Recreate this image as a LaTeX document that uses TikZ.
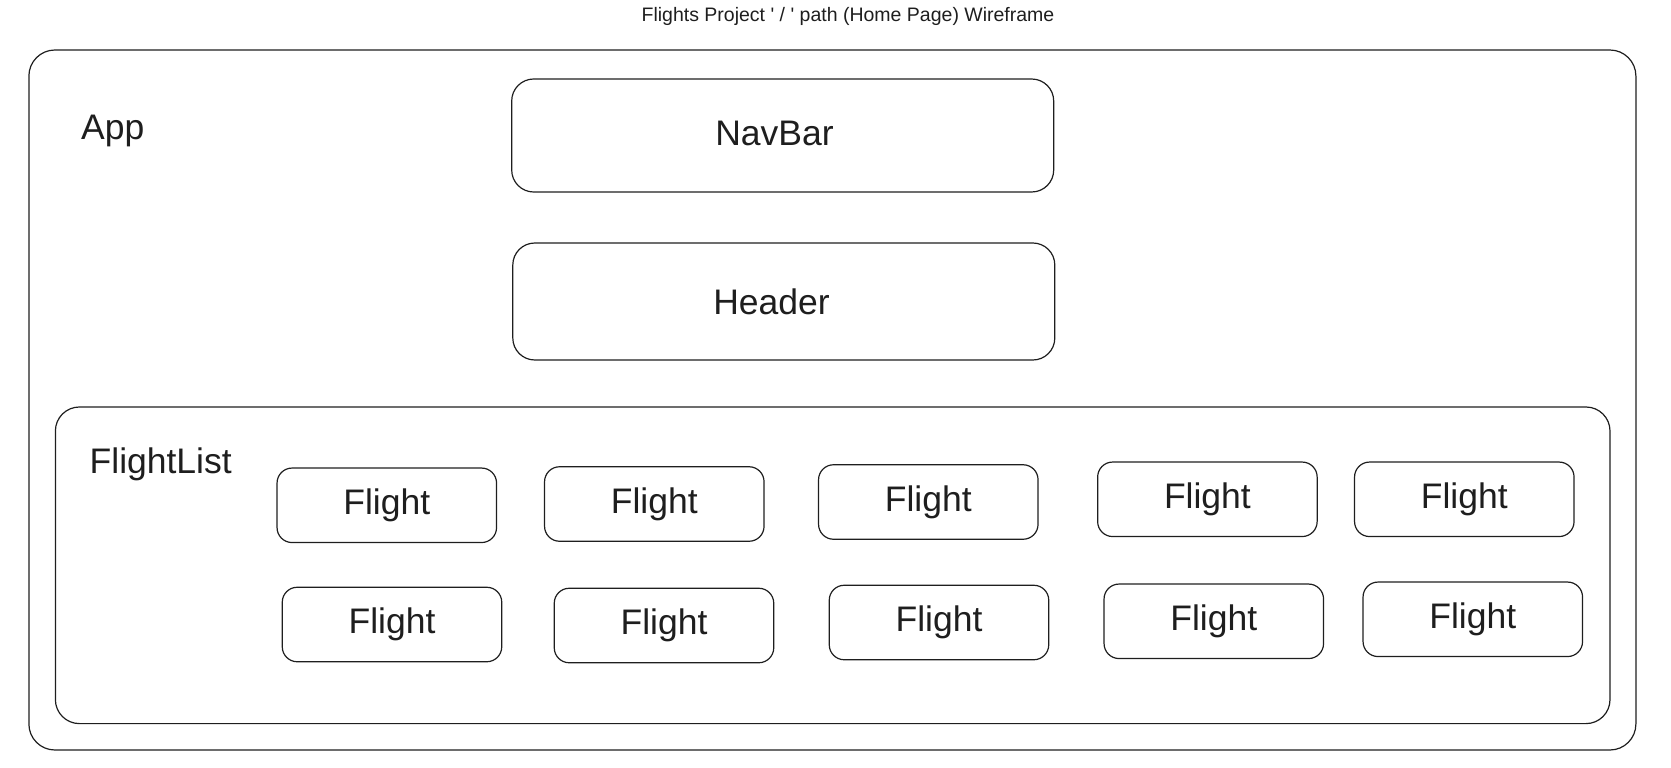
\documentclass[tikz,border=0pt]{standalone}
\usepackage{fontspec}
\setmainfont{Liberation Sans}[Ligatures=TeXOff]
\definecolor{ink}{HTML}{1E1E1E}
\begin{document}
\begin{tikzpicture}[x=1pt,y=-1pt,
  box/.style={draw=ink, line width=1.2pt, rectangle, inner sep=0pt},
  bigbox/.style={box, rounded corners=26pt},
  midbox/.style={box, rounded corners=22pt, minimum width=542pt},
  flightbox/.style={box, rounded corners=15pt, minimum width=219.5pt, minimum height=74.5pt, font=\fontsize{35.5}{40}\selectfont, text=ink},
  lbl/.style={inner sep=0pt, font=\fontsize{35.5}{40}\selectfont, text=ink},
]
\useasboundingbox (0,0) rectangle (1671,768);
\node[inner sep=0pt, font=\fontsize{19.5}{22}\selectfont, text=ink] (title) at (848,16) {Flights Project ' / ' path (Home Page) Wireframe};
\node[bigbox, minimum width=1607pt, minimum height=700pt] (app) at (832.4,400) {};
\node[lbl, anchor=west] (applbl) at (81,131) {App};
\node[midbox, minimum height=113pt] (navbar) at (782.7,135.5) {};
\node[lbl] (navlbl) at (774.5,133) {NavBar};
\node[midbox, minimum height=117pt] (header) at (783.8,301.5) {};
\node[lbl] (headlbl) at (771.5,301.5) {Header};
\node[bigbox, rounded corners=24pt, minimum width=1554.6pt, minimum height=316.6pt] (flightlist) at (832.7,565.3) {};
\node[lbl, anchor=west] (fllbl) at (89.5,464) {FlightList};
\node[flightbox] (f1) at (386.8,505.3) {Flight};
\node[flightbox] (f2) at (654.3,504) {Flight};
\node[flightbox] (f3) at (928.3,502) {Flight};
\node[flightbox] (f4) at (1207.4,499.3) {Flight};
\node[flightbox] (f5) at (1464.3,499.3) {Flight};
\node[flightbox] (f6) at (392,624.5) {Flight};
\node[flightbox] (f7) at (664,625.5) {Flight};
\node[flightbox] (f8) at (939,622.5) {Flight};
\node[flightbox] (f9) at (1213.8,621.3) {Flight};
\node[flightbox] (f10) at (1472.8,619.3) {Flight};
\end{tikzpicture}
\end{document}
